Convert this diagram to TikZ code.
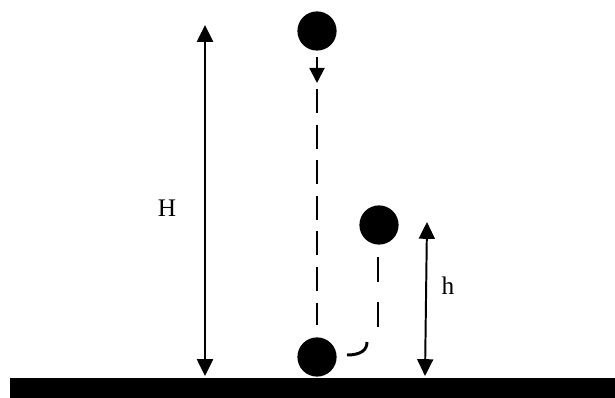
\documentclass[tikz,border=0pt]{standalone}
\usepackage{fontspec}
\setmainfont{Liberation Serif}
\usetikzlibrary{arrows.meta}
\tikzset{
  ball/.style={circle, fill=black, minimum size=0.98cm, inner sep=0pt},
  tip/.style={Triangle[width=0.4cm,length=0.42cm]},
  dimline/.style={line width=1.4pt, {Triangle[width=0.4cm,length=0.42cm]}-{Triangle[width=0.4cm,length=0.42cm]}},
  fallpath/.style={line width=2.1pt},
  label/.style={font=\fontsize{18}{20}\selectfont, anchor=base}
}
\begin{document}
\begin{tikzpicture}[x=0.025cm, y=-0.025cm]
  \useasboundingbox (0,0) rectangle (615,398);
  % Ground
  \fill [black] (10,378) rectangle (615,398);
  % Balls
  \node [ball] (top) at (317,31) {};
  \node [ball] (bottom) at (317,357) {};
  \node [ball] (rebound) at (379,225) {};
  % Fall direction
  \coordinate (fallstart) at (317,57);
  \coordinate (falltip) at (317,83);
  \draw [line width=1.4pt, -{Triangle[width=0.38cm,length=0.38cm]}] (fallstart) -- (falltip);
  % Falling path
  \coordinate (fallA) at (317,89);
  \coordinate (fallB) at (317,325);
  \draw [fallpath, dash pattern=on 0.6cm off 0.29cm] (fallA) -- (fallB);
  % Bounce
  \coordinate (bounceA) at (347,355);
  \coordinate (bounceB) at (367,342);
  \draw [fallpath] (bounceA) .. controls (361,355) and (367,350) .. (bounceB);
  \coordinate (riseA) at (378,327);
  \coordinate (riseB) at (378,257);
  \draw [fallpath, dash pattern=on 0.625cm off 0.5cm] (riseA) -- (riseB);
  % Heights
  \coordinate (Htop) at (205,25);
  \coordinate (Hbot) at (205,376);
  \draw [dimline] (Hbot) -- (Htop);
  \node [label] (Hlabel) at (167,217) {H};
  \coordinate (htop) at (427,222);
  \coordinate (hbot) at (425,376);
  \draw [dimline] (hbot) -- (htop);
  \node [label] (hlabel) at (448,295) {h};
\end{tikzpicture}
\end{document}
